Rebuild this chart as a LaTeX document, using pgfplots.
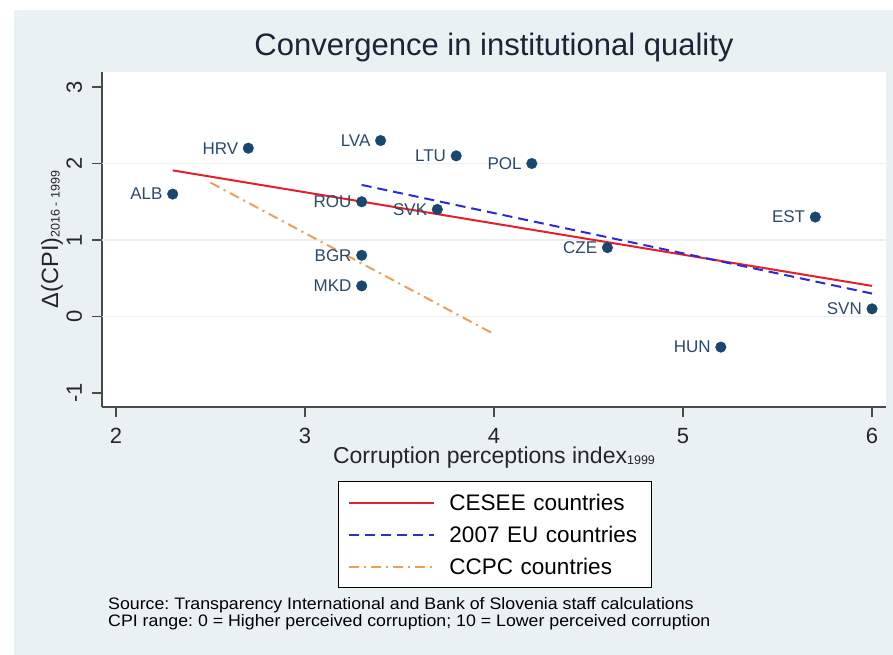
\documentclass[border=0pt]{standalone}
\usepackage{fontspec}
\setmainfont{Liberation Sans}
\newfontfamily\notefont[FakeStretch=1.07]{Liberation Sans}
\usepackage{pgfplots}
\pgfplotsset{compat=1.18}
\definecolor{bgc}{HTML}{EAF1F3}
\definecolor{navy}{HTML}{1A476F}
\definecolor{labc}{HTML}{2A4A6C}
\definecolor{redl}{HTML}{E5202A}
\definecolor{bluel}{HTML}{2A2AD8}
\definecolor{orangel}{HTML}{ECA05A}
\definecolor{axc}{HTML}{4A4A4A}
\definecolor{gridc}{HTML}{ECEEEF}
\definecolor{titc}{HTML}{1C2536}
\frenchspacing
\begin{document}
\begin{tikzpicture}
\useasboundingbox (0,0) rectangle (893pt,-655pt);
\fill[white] (0,0) rectangle (893pt,-655pt);
\fill[bgc] (14pt,-10pt) rectangle (893pt,-655pt);
\begin{axis}[
  at={(102pt,-407pt)}, anchor=south west,
  scale only axis, width=784pt, height=335pt,
  xmin=1.926, xmax=6.074, ymin=-1.183, ymax=3.196,
  axis background/.style={fill=white},
  separate axis lines,
  axis x line*=bottom, axis y line*=left,
  axis line style={-, draw=axc, line width=1.3pt},
  xtick={2,3,4,5,6}, ytick={-1,0,1,2,3},
  extra y ticks={0,1,2}, extra y tick labels={},
  extra y tick style={grid=major, major tick length=0pt, major grid style={draw=gridc, line width=1.2pt}},
  tick align=outside, major tick length=10pt,
  tick style={draw=axc, line width=1.2pt},
  /pgf/number format/assume math mode=true,
  ticklabel style={font=\fontsize{22}{24}\selectfont, text=black!85},
  xticklabel style={anchor=base}, xticklabel shift=26pt,
  yticklabel style={rotate=90, anchor=base}, yticklabel shift=10pt,
  title={Convergence in institutional quality},
  title style={at={(axis description cs:0.5,1.0299)}, anchor=base, font=\fontsize{31}{33}\selectfont, text=titc},
  xlabel={Corruption perceptions index\raisebox{-1pt}{\fontsize{12.5}{13}\selectfont 1999}},
  xlabel style={at={(axis description cs:0.5,-0.170)}, anchor=base, font=\fontsize{23}{25}\selectfont, text=black!85},
  ylabel={Δ(CPI)\raisebox{-1.5pt}{\fontsize{12.5}{13}\selectfont 2016 - 1999}},
  ylabel style={at={(axis description cs:-0.0561,0.5)}, rotate=0, anchor=base, font=\fontsize{23.5}{25}\selectfont, text=black!85},
  legend style={at={(axis description cs:0.301,-0.2209)}, anchor=north west,
    draw=black, line width=1pt, fill=white, inner xsep=10pt, inner ysep=13pt,
    row sep=16pt, font=\fontsize{22.5}{24}\selectfont,
    cells={anchor=west},
    nodes={inner sep=0pt, text height=16pt, text depth=0pt, text width=192pt},
    /tikz/every odd column/.append style={column sep=14pt}},
  legend image code/.code={\path[draw=none, fill=none] (0pt,-8pt) rectangle (85pt,8pt); \draw[#1] (0pt,0pt) -- (85pt,0pt);},
]
\addplot[redl, line width=2pt] coordinates {(2.3,1.91) (6.0,0.40)};
\addlegendentry{CESEE countries}
\addplot[bluel, line width=2pt, dash pattern=on 10pt off 6pt] coordinates {(3.3,1.72) (6.0,0.30)};
\addlegendentry{2007 EU countries}
\addplot[orangel, line width=2pt, dash pattern=on 10pt off 5pt on 2pt off 5pt] coordinates {(2.5,1.75) (4.0,-0.23)};
\addlegendentry{CCPC countries}
\addplot[only marks, mark=*, mark size=5.3pt, mark options={draw=navy, fill=navy}, forget plot,
  nodes near coords, point meta=explicit symbolic,
  every node near coord/.append style={anchor=east, xshift=-10pt, inner sep=0pt, font=\fontsize{17}{19}\selectfont, text=labc}]
table[meta=lab] {
x y lab
2.3 1.6 ALB
2.7 2.2 HRV
3.4 2.3 LVA
3.8 2.1 LTU
4.2 2.0 POL
3.3 1.5 ROU
3.7 1.4 SVK
3.3 0.8 BGR
3.3 0.4 MKD
4.6 0.9 CZE
5.7 1.3 EST
6.0 0.1 SVN
5.2 -0.4 HUN
};
\end{axis}
\node[anchor=base west, inner sep=0pt, font=\notefont\fontsize{16.6}{18}\selectfont] at (108pt,-609.5pt) {Source: Transparency International and Bank of Slovenia staff calculations};
\node[anchor=base west, inner sep=0pt, font=\notefont\fontsize{16.6}{18}\selectfont] at (108pt,-626pt) {CPI range: 0 = Higher perceived corruption; 10 = Lower perceived corruption};
\end{tikzpicture}
\end{document}
